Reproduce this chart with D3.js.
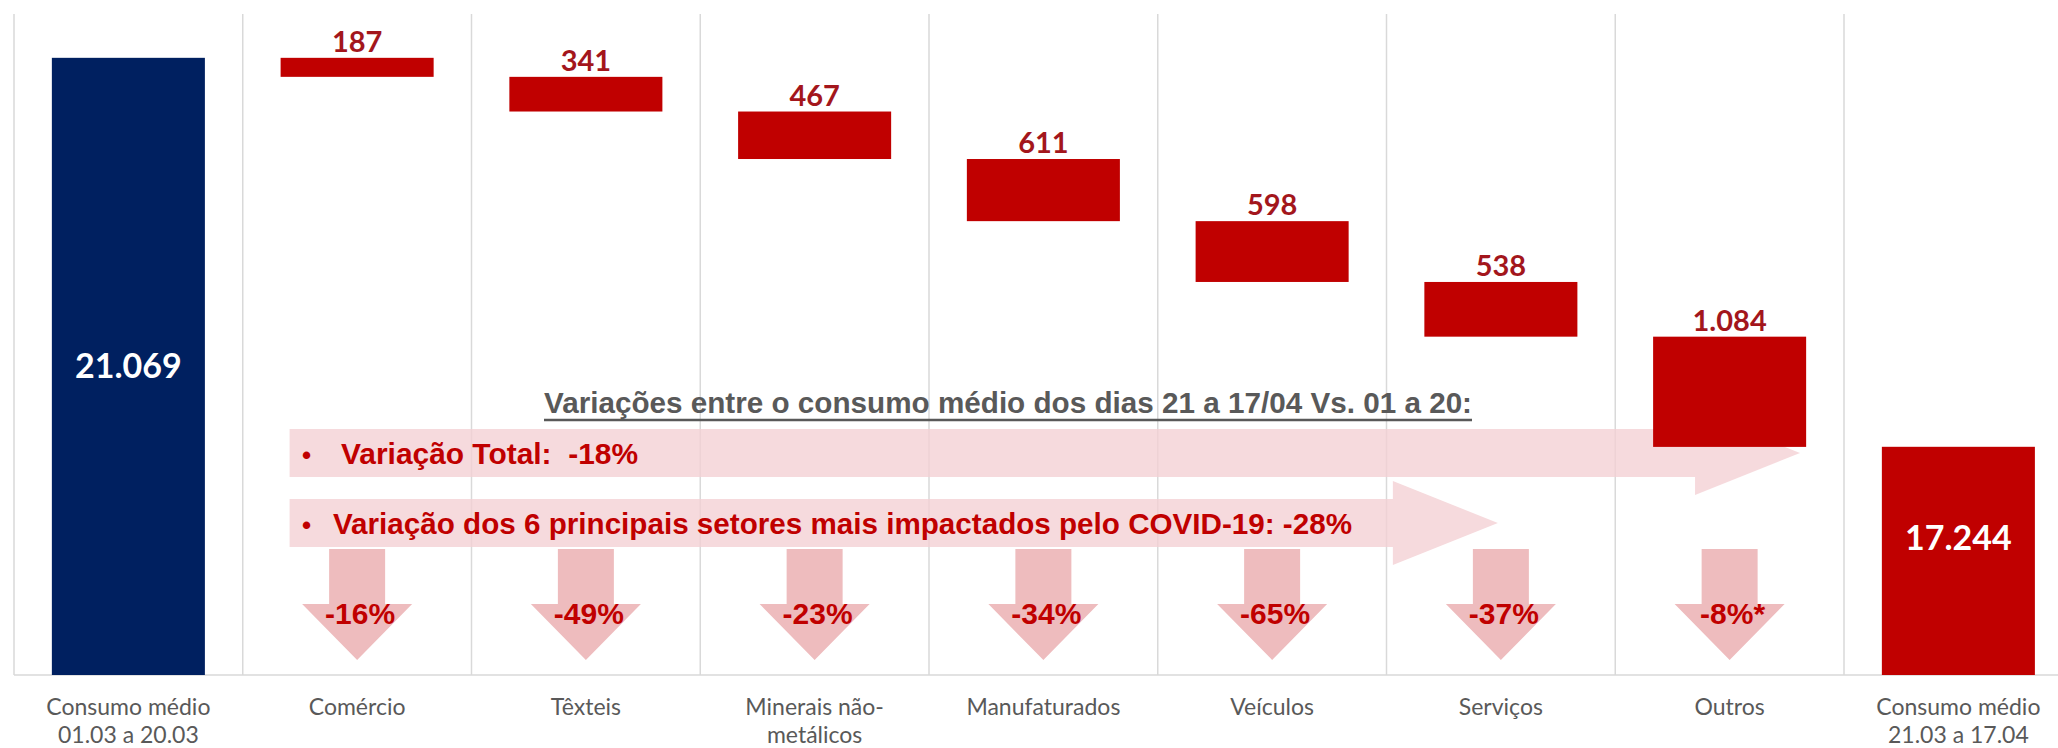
<!DOCTYPE html>
<html>
<head>
<meta charset="utf-8">
<script src="https://cdn.jsdelivr.net/npm/d3@7"></script>
<style>
  body { margin: 0; background: #fff; }
  svg { display: block; }
</style>
</head>
<body>
<svg width="2058" height="748"></svg>
<script>
// categories (each label split in lines)
const categories = [
  ['Consumo médio', '01.03 a 20.03'],
  ['Comércio'],
  ['Têxteis'],
  ['Minerais não-', 'metálicos'],
  ['Manufaturados'],
  ['Veículos'],
  ['Serviços'],
  ['Outros'],
  ['Consumo médio', '21.03 a 17.04']
]
const startValue = 21069
const drops = [187, 341, 467, 611, 598, 538, 1084]
const endValue = 17244
const sectorChanges = ['-16%', '-49%', '-23%', '-34%', '-65%', '-37%', '-8%*']
const headerText = 'Variações entre o consumo médio dos dias 21 a 17/04 Vs. 01 a 20:'
const totalText = 'Variação Total:  -18%'
const topSixText = 'Variação dos 6 principais setores mais impactados pelo COVID-19: -28%'

const width = 2058
const svg = d3.select('svg')

const fmt = d3.formatLocale({ decimal: ',', thousands: '.', grouping: [3], currency: ['', ''] }).format(',d')

const keys = categories.map((c, i) => i)
const x = d3.scaleBand()
  .domain(keys)
  .range([14, 14 + 9 * 228.75])
  .paddingInner(0.331)
  .paddingOuter(0.1655)
const y = d3.scaleLinear().domain([15000, 21500]).range([675, 14])
const yMin = y.domain()[0]

// build waterfall bars
let running = startValue
let bars = [{ i: 0, top: startValue, bottom: yMin, kind: 'start', value: startValue }]
drops.forEach((d, k) => {
  bars.push({ i: k + 1, top: running, bottom: running - d, kind: 'drop', value: d })
  running -= d
})
bars.push({ i: 8, top: endValue, bottom: yMin, kind: 'end', value: endValue })

const step = x.step()
const gridX = keys.map(k => x(k) - (step - x.bandwidth()) / 2)

// gridlines
svg.append('g')
  .selectAll('line')
  .data(gridX)
  .join('line')
  .attr('x1', d => d).attr('x2', d => d)
  .attr('y1', y.range()[1]).attr('y2', y.range()[0])
  .attr('stroke', '#d9d9d9')
  .attr('stroke-width', 1.5)

svg.append('line')
  .attr('x1', gridX[0]).attr('x2', width)
  .attr('y1', y.range()[0]).attr('y2', y.range()[0])
  .attr('stroke', '#d9d9d9')
  .attr('stroke-width', 1.5)

// horizontal annotation arrows
const arrowStart = x(1) + 9
const hArrows = [
  { top: 429, bottom: 477, tip: x(7) + x.bandwidth() * 0.96 },
  { top: 499, bottom: 547, tip: x(6) + x.bandwidth() / 2 - 3 }
]
svg.append('g')
  .selectAll('path')
  .data(hArrows)
  .join('path')
  .attr('d', a => {
    const c = (a.top + a.bottom) / 2
    const hx = a.tip - 105
    return `M${arrowStart},${a.top}H${hx}V${c - 42}L${a.tip},${c}L${hx},${c + 42}V${a.bottom}H${arrowStart}Z`
  })
  .attr('fill', '#f3d0d3')
  .attr('opacity', 0.78)

// bars
svg.append('g')
  .selectAll('rect')
  .data(bars)
  .join('rect')
  .attr('x', d => x(d.i))
  .attr('width', x.bandwidth())
  .attr('y', d => y(d.top))
  .attr('height', d => y(d.bottom) - y(d.top))
  .attr('fill', d => d.kind === 'start' ? '#002060' : '#c00000')

// drop labels
svg.append('g')
  .selectAll('text')
  .data(bars.filter(d => d.kind === 'drop'))
  .join('text')
  .attr('x', d => x(d.i) + x.bandwidth() / 2)
  .attr('y', d => y(d.top) - 6)
  .attr('text-anchor', 'middle')
  .attr('font-family', 'Lato, "Open Sans", sans-serif')
  .attr('font-weight', 700)
  .attr('font-size', 29)
  .attr('fill', '#a3161c')
  .text(d => fmt(d.value))

// total labels
svg.append('g')
  .selectAll('text')
  .data(bars.filter(d => d.kind !== 'drop'))
  .join('text')
  .attr('x', d => x(d.i) + x.bandwidth() / 2)
  .attr('y', d => {
    const f = d.kind === 'start' ? 0.5 : 0.4
    return y(d.top) + (y(d.bottom) - y(d.top)) * f + 12
  })
  .attr('text-anchor', 'middle')
  .attr('font-family', 'Lato, "Open Sans", sans-serif')
  .attr('font-weight', 700)
  .attr('font-size', 34)
  .attr('fill', '#ffffff')
  .text(d => fmt(d.value))

// category labels
const catG = svg.append('g')
  .selectAll('text')
  .data(categories)
  .join('text')
  .attr('x', (d, i) => x(i) + x.bandwidth() / 2)
  .attr('y', 715)
  .attr('text-anchor', 'middle')
  .attr('font-family', 'Lato, "Open Sans", sans-serif')
  .attr('font-size', 23)
  .attr('fill', '#595959')
catG.selectAll('tspan')
  .data(d => d)
  .join('tspan')
  .attr('x', function () { return d3.select(this.parentNode).attr('x') })
  .attr('dy', (d, j) => j === 0 ? 0 : 28)
  .text(d => d)

// header
svg.append('text')
  .attr('x', 544)
  .attr('y', 413)
  .attr('textLength', 928)
  .attr('lengthAdjust', 'spacingAndGlyphs')
  .attr('font-family', 'Arial, "Liberation Sans", sans-serif')
  .attr('font-weight', 700)
  .attr('font-size', 29)
  .attr('fill', '#595959')
  .text(headerText)
svg.append('line')
  .attr('x1', 544).attr('x2', 1472)
  .attr('y1', 420).attr('y2', 420)
  .attr('stroke', '#595959')
  .attr('stroke-width', 2.5)

// bullet lines
const bulletLines = [
  { text: totalText, x: 341, y: 464, len: 297 },
  { text: topSixText, x: 333, y: 534, len: 1019 }
]
bulletLines.forEach(b => {
  svg.append('text')
    .attr('x', 302).attr('y', b.y)
    .attr('font-family', 'Arial, "Liberation Sans", sans-serif')
    .attr('font-weight', 700)
    .attr('font-size', 26)
    .attr('fill', '#c00000')
    .text('•')
  svg.append('text')
    .attr('x', b.x).attr('y', b.y)
    .attr('textLength', b.len)
    .attr('lengthAdjust', 'spacingAndGlyphs')
    .style('white-space', 'pre')
    .attr('font-family', 'Arial, "Liberation Sans", sans-serif')
    .attr('font-weight', 700)
    .attr('font-size', 30)
    .attr('fill', '#c00000')
    .text(b.text)
})

// vertical arrows with sector changes
const sectorKeys = sectorChanges.map((s, k) => k + 1)
const vArrows = svg.append('g')
vArrows.selectAll('path')
  .data(sectorKeys)
  .join('path')
  .attr('d', k => {
    const cx = x(k) + x.bandwidth() / 2
    return `M${cx - 28},549H${cx + 28}V604H${cx + 55}L${cx},660L${cx - 55},604H${cx - 28}Z`
  })
  .attr('fill', '#eebcbe')
vArrows.selectAll('text')
  .data(sectorChanges)
  .join('text')
  .attr('x', (d, k) => x(k + 1) + x.bandwidth() / 2 + 3)
  .attr('y', 624)
  .attr('text-anchor', 'middle')
  .attr('font-family', 'Arial, "Liberation Sans", sans-serif')
  .attr('font-weight', 700)
  .attr('font-size', 30)
  .attr('fill', '#c00000')
  .text(d => d)
</script>
</body>
</html>
